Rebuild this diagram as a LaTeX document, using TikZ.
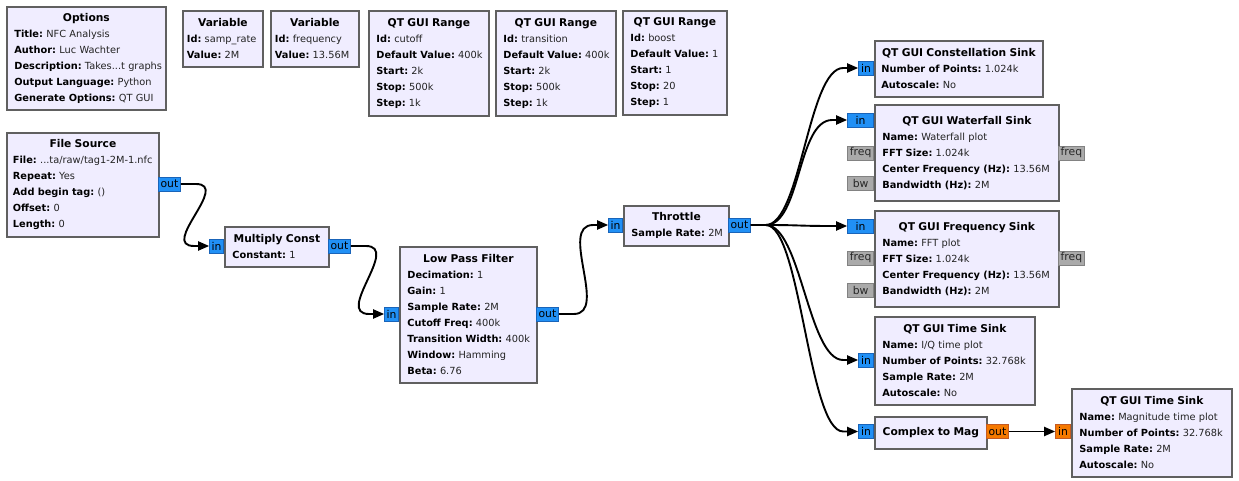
\documentclass[tikz,border=0pt]{standalone}
\usepackage{fontspec}
\setmainfont{DejaVu Sans}
\usetikzlibrary{arrows.meta,calc}
\frenchspacing
\definecolor{blkfill}{RGB}{240,237,255}
\definecolor{blkdraw}{RGB}{96,96,96}
\definecolor{portblue}{RGB}{33,144,245}
\definecolor{portblueb}{RGB}{25,100,185}
\definecolor{portorange}{RGB}{245,121,0}
\definecolor{portorangeb}{RGB}{195,90,35}
\definecolor{portgray}{RGB}{170,170,170}
\definecolor{portgrayb}{RGB}{130,130,130}
\definecolor{valtext}{RGB}{35,35,35}
\newcommand\bodyfont{\fontsize{9.8}{16}\selectfont}
\newcommand\ttlfont{\fontsize{10.7}{16}\selectfont\bfseries}
\newcommand\gtitle[1]{{\centering\mbox{\ttlfont #1}\par}}
\newcommand\gline[2]{{\raggedright\mbox{\textbf{#1:} \textcolor{valtext}{#2}}\par}}
\newcommand\grblock[7][7.5]{%
  \pgfmathsetmacro\gw{#5-#3}\pgfmathsetmacro\gh{#6-#4}\pgfmathsetmacro\gtw{#5-#3-2*#1}%
  \node[blk, inner xsep=#1pt, minimum width=\gw pt, minimum height=\gh pt, text width=\gtw pt, anchor=north west] (#2) at (#3,#4) {\frenchspacing #7};}
\newcommand\wire[2]{\draw[wire] (#1.east) -- ++(15,0) .. controls +(35,0) and +(-35,0) .. ($(#2.west)+(-15,0)$) -- (#2.west);}
\tikzset{
  blk/.style={draw=blkdraw, fill=blkfill, line width=1.8pt, inner ysep=0pt, font=\bodyfont, text=black},
  port/.style={draw, line width=0.8pt, inner sep=0pt, minimum height=14pt, font=\fontsize{10.8}{11}\selectfont, text=black},
  pblue/.style={port, fill=portblue, draw=portblueb},
  porange/.style={port, fill=portorange, draw=portorangeb},
  pgray/.style={port, fill=portgray, draw=portgrayb, text={rgb,255:red,40;green,40;blue,40}},
  wire/.style={line width=1.9pt, black, -{Triangle[length=11pt,width=9pt]}},
}
\begin{document}
\begin{tikzpicture}[x=1pt,y=-1pt]
\useasboundingbox[fill=white] (0,0) rectangle (1239,481);
% variable-like blocks
\grblock{opt}{6}{6}{165}{109}{\gtitle{Options}\gline{Title}{NFC Analysis}\gline{Author}{Luc Wachter}\gline{Description}{Takes...t graphs}\gline{Output Language}{Python}\gline{Generate Options}{QT GUI}}
\grblock[4]{var1}{182}{10}{262}{66}{\gtitle{Variable}\gline{Id}{samp\_rate}\gline{Value}{2M}}
\grblock[4]{var2}{270}{10}{358}{66}{\gtitle{Variable}\gline{Id}{frequency}\gline{Value}{13.56M}}
\grblock{rng1}{368}{10}{488}{115}{\gtitle{QT GUI Range}\gline{Id}{cutoff}\gline{Default Value}{400k}\gline{Start}{2k}\gline{Stop}{500k}\gline{Step}{1k}}
\grblock{rng2}{495}{10}{615}{115}{\gtitle{QT GUI Range}\gline{Id}{transition}\gline{Default Value}{400k}\gline{Start}{2k}\gline{Stop}{500k}\gline{Step}{1k}}
\grblock{rng3}{622}{10}{726}{114}{\gtitle{QT GUI Range}\gline{Id}{boost}\gline{Default Value}{1}\gline{Start}{1}\gline{Stop}{20}\gline{Step}{1}}
% flow blocks
\grblock[6]{fs}{6}{132}{158}{236}{\gtitle{File Source}\gline{File}{...ta/raw/tag1-2M-1.nfc}\gline{Repeat}{Yes}\gline{Add begin tag}{()}\gline{Offset}{0}\gline{Length}{0}}
\grblock{mc}{224}{226}{328}{266}{\gtitle{Multiply Const}\gline{Constant}{1}}
\grblock{lpf}{399}{246}{536}{382}{\gtitle{Low Pass Filter}\gline{Decimation}{1}\gline{Gain}{1}\gline{Sample Rate}{2M}\gline{Cutoff Freq}{400k}\gline{Transition Width}{400k}\gline{Window}{Hamming}\gline{Beta}{6.76}}
\grblock{thr}{623}{205}{728}{245}{\gtitle{Throttle}\gline{Sample Rate}{2M}}
\grblock[6.5]{cons}{874}{40}{1042}{96}{\gtitle{QT GUI Constellation Sink}\gline{Number of Points}{1.024k}\gline{Autoscale}{No}}
\grblock{wf}{874}{104}{1058}{200}{\gtitle{QT GUI Waterfall Sink}\gline{Name}{Waterfall plot}\gline{FFT Size}{1.024k}\gline{Center Frequency (Hz)}{13.56M}\gline{Bandwidth (Hz)}{2M}}
\grblock{fq}{874}{210}{1058}{306}{\gtitle{QT GUI Frequency Sink}\gline{Name}{FFT plot}\gline{FFT Size}{1.024k}\gline{Center Frequency (Hz)}{13.56M}\gline{Bandwidth (Hz)}{2M}}
\grblock{ts}{874}{316}{1034}{404}{\gtitle{QT GUI Time Sink}\gline{Name}{I/Q time plot}\gline{Number of Points}{32.768k}\gline{Sample Rate}{2M}\gline{Autoscale}{No}}
\grblock{c2m}{874}{416}{986}{448}{\gtitle{Complex to Mag}}
\grblock{tsm}{1071}{388}{1231}{476}{\gtitle{QT GUI Time Sink}\gline{Name}{Magnitude time plot}\gline{Number of Points}{32.768k}\gline{Sample Rate}{2M}\gline{Autoscale}{No}}
% ports
\node[pblue, minimum width=22pt, anchor=west] (fsout) at (158,184) {out};
\node[pblue, minimum width=14pt, anchor=east] (mcin) at (224,246) {in};
\node[pblue, minimum width=22pt, anchor=west] (mcout) at (328,246) {out};
\node[pblue, minimum width=14pt, anchor=east] (lpfin) at (399,314) {in};
\node[pblue, minimum width=22pt, anchor=west] (lpfout) at (536,314) {out};
\node[pblue, minimum width=14pt, anchor=east] (thrin) at (623,225) {in};
\node[pblue, minimum width=22pt, anchor=west] (throut) at (728,225) {out};
\node[pblue, minimum width=15pt, anchor=east] (consin) at (874,68) {in};
\node[pblue, minimum width=26pt, anchor=east] (wfin) at (874,120) {in};
\node[pgray, minimum width=26pt, anchor=east] (wffreq) at (874,153) {freq};
\node[pgray, minimum width=26pt, anchor=east] (wfbw) at (874,183) {bw};
\node[pgray, minimum width=26pt, anchor=west] (wffreqo) at (1058,153) {freq};
\node[pblue, minimum width=26pt, anchor=east] (fqin) at (874,226) {in};
\node[pgray, minimum width=26pt, anchor=east] (fqfreq) at (874,258) {freq};
\node[pgray, minimum width=26pt, anchor=east] (fqbw) at (874,290) {bw};
\node[pgray, minimum width=26pt, anchor=west] (fqfreqo) at (1058,258) {freq};
\node[pblue, minimum width=15pt, anchor=east] (tsin) at (874,360) {in};
\node[pblue, minimum width=15pt, anchor=east] (c2min) at (874,431.5) {in};
\node[porange, minimum width=22pt, anchor=west] (c2mout) at (986,431.5) {out};
\node[porange, minimum width=15pt, anchor=east] (tsmin) at (1071,431.5) {in};
% connections
\wire{fsout}{mcin}
\wire{mcout}{lpfin}
\wire{lpfout}{thrin}
\wire{throut}{consin}
\wire{throut}{wfin}
\wire{throut}{fqin}
\wire{throut}{tsin}
\wire{throut}{c2min}
\wire{c2mout}{tsmin}
\end{tikzpicture}
\end{document}
